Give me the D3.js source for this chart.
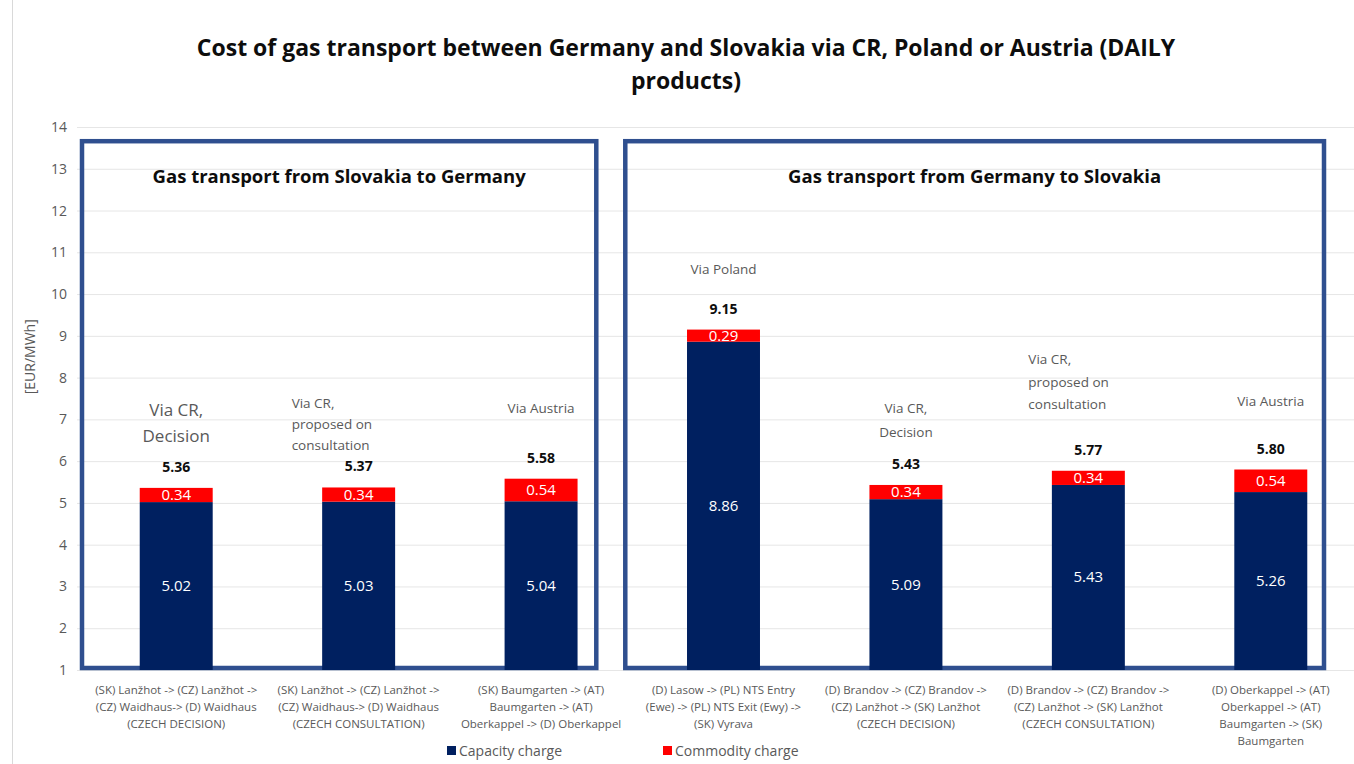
<!DOCTYPE html>
<html>
<head>
<meta charset="utf-8">
<script src="https://cdn.jsdelivr.net/npm/d3@7/dist/d3.min.js"></script>
<style>
  body { margin: 0; background: #fff; }
  text { font-family: "Open Sans", "Noto Sans", sans-serif; }
  .narrow { font-family: "Liberation Sans Narrow", "Open Sans", sans-serif; }
</style>
</head>
<body>
<svg id="chart" width="1354" height="764"></svg>
<script>
// data
var routes = [
  ["(SK) Lanžhot -> (CZ) Lanžhot ->", "(CZ) Waidhaus-> (D) Waidhaus", "(CZECH DECISION)"],
  ["(SK) Lanžhot -> (CZ) Lanžhot ->", "(CZ) Waidhaus-> (D) Waidhaus", "(CZECH CONSULTATION)"],
  ["(SK) Baumgarten -> (AT)", "Baumgarten -> (AT)", "Oberkappel -> (D) Oberkappel"],
  ["(D) Lasow -> (PL) NTS Entry", "(Ewe) -> (PL) NTS Exit (Ewy) ->", "(SK) Vyrava"],
  ["(D) Brandov -> (CZ) Brandov ->", "(CZ) Lanžhot -> (SK) Lanžhot", "(CZECH DECISION)"],
  ["(D) Brandov -> (CZ) Brandov ->", "(CZ) Lanžhot -> (SK) Lanžhot", "(CZECH CONSULTATION)"],
  ["(D) Oberkappel -> (AT)", "Oberkappel -> (AT)", "Baumgarten -> (SK)", "Baumgarten"]
];
var capacity  = [5.02, 5.03, 5.04, 8.86, 5.09, 5.43, 5.26];
var commodity = [0.34, 0.34, 0.54, 0.29, 0.34, 0.34, 0.54];
var totals    = [5.36, 5.37, 5.58, 9.15, 5.43, 5.77, 5.80];
var notes = [
  ["Via CR,", "Decision"],
  ["Via CR,", "proposed on", "consultation"],
  ["Via Austria"],
  ["Via Poland"],
  ["Via CR,", "Decision"],
  ["Via CR,", "proposed on", "consultation"],
  ["Via Austria"]
];
var groupTitles = ["Gas transport from Slovakia to Germany", "Gas transport from Germany to Slovakia"];
var groupRanges = [[0, 2], [3, 6]];
var yTicks = d3.range(1, 15);
var seriesNames = ["Capacity charge", "Commodity charge"];

// layout for the free-floating notes (offset from bar top, px)
var noteLayout = [
  {dy: -78, size: 17, lh: 26, anchor: "middle", dx: 0},
  {dy: -84, size: 13.5, lh: 21, anchor: "start", dx: -67},
  {dy: -70, size: 13.5, lh: 22, anchor: "middle", dx: 0},
  {dy: -60, size: 13.5, lh: 22, anchor: "middle", dx: 0},
  {dy: -77, size: 13.5, lh: 24, anchor: "middle", dx: 0},
  {dy: -111, size: 13.5, lh: 22.5, anchor: "start", dx: -60},
  {dy: -68, size: 13.5, lh: 22, anchor: "middle", dx: 0}
];

var colors = d3.scaleOrdinal().domain(seriesNames).range(["#002060", "#FF0000"]);

var svg = d3.select("#chart");
var width = 1354, height = 764;

var x = d3.scaleBand()
  .domain(d3.range(capacity.length))
  .range([85, 1362])
  .paddingInner(0.6)
  .paddingOuter(0.3);

var y = d3.scaleLinear().domain([1, 14]).range([670, 127]);

var grey = "#595959";

// outer chart border
svg.append("line").attr("x1", 12.5).attr("x2", 12.5).attr("y1", 0).attr("y2", height)
  .attr("stroke", "#d9d9d9");

// title
svg.append("text")
  .attr("x", 686).attr("y", 56)
  .attr("text-anchor", "middle")
  .attr("font-size", 23).attr("font-weight", "bold").attr("fill", "#0d0d0d")
  .selectAll("tspan")
  .data(["Cost of gas transport between Germany and Slovakia via CR, Poland or Austria (DAILY", "products)"])
  .enter().append("tspan")
  .attr("x", 686).attr("dy", function (d, i) { return i ? 33 : 0; })
  .text(function (d) { return d; });

// gridlines
svg.append("g").selectAll("line")
  .data(yTicks)
  .enter().append("line")
  .attr("x1", 77).attr("x2", width)
  .attr("y1", function (d) { return y(d) + 0.5; })
  .attr("y2", function (d) { return y(d) + 0.5; })
  .attr("stroke", "#e6e6e6");

// y axis
var yAxis = svg.append("g")
  .attr("transform", "translate(77,0)")
  .call(d3.axisLeft(y).tickValues(yTicks).tickSize(0).tickPadding(10));
yAxis.select(".domain").remove();
yAxis.selectAll("text").attr("font-size", 14).attr("fill", grey)
  .style("font-family", "'Open Sans', sans-serif");

svg.append("text")
  .attr("transform", "translate(35," + y(8.5) + ") rotate(-90)")
  .attr("text-anchor", "middle")
  .attr("font-size", 14).attr("fill", grey)
  .text("[EUR/MWh]");

// group boxes
groupRanges.forEach(function (r, i) {
  var x0 = x(r[0]) - x.step() * x.paddingOuter() + (i ? -7 : -3);
  var x1 = x(r[1]) + x.bandwidth() + x.step() * x.paddingOuter() - (i ? 38 : 36);
  var y0 = y(13.66), y1 = y(1) - 2;
  svg.append("rect")
    .attr("x", x0).attr("y", y0)
    .attr("width", x1 - x0).attr("height", y1 - y0)
    .attr("fill", "none")
    .attr("stroke", "#2F4F8F").attr("stroke-width", 4.5);
  svg.append("text")
    .attr("x", (x0 + x1) / 2).attr("y", y(12.8) + 6)
    .attr("text-anchor", "middle")
    .attr("font-size", 18.5).attr("font-weight", "bold").attr("fill", "#0d0d0d")
    .text(groupTitles[i]);
});

// stacked bars
var rows = capacity.map(function (c, i) {
  return {i: i, capacity: c, commodity: commodity[i]};
});
var stack = d3.stack().keys(["capacity", "commodity"]);
var layers = stack(rows);

var layer = svg.append("g").selectAll("g")
  .data(layers)
  .enter().append("g")
  .attr("fill", function (d, k) { return colors(seriesNames[k]); });

layer.selectAll("rect")
  .data(function (d) { return d; })
  .enter().append("rect")
  .attr("x", function (d) { return x(d.data.i); })
  .attr("width", x.bandwidth())
  .attr("y", function (d) { return y(Math.max(1, d[1])); })
  .attr("height", function (d) { return y(Math.max(1, d[0])) - y(Math.max(1, d[1])); });

// value labels inside segments
layer.selectAll("text")
  .data(function (d) { return d.map(function (p) { return {p: p, key: d.key}; }); })
  .enter().append("text")
  .attr("x", function (d) { return x(d.p.data.i) + x.bandwidth() / 2; })
  .attr("y", function (d) {
    var lo = Math.max(1, d.p[0]), hi = d.p[1];
    return (y(lo) + y(hi)) / 2 + 5;
  })
  .attr("text-anchor", "middle")
  .attr("font-size", 15)
  .attr("fill", "#fff")
  .text(function (d) { return d.p.data[d.key].toFixed(2); });

// totals
svg.append("g").selectAll("text")
  .data(totals)
  .enter().append("text")
  .attr("x", function (d, i) { return x(i) + x.bandwidth() / 2; })
  .attr("y", function (d) { return y(d) - 16; })
  .attr("text-anchor", "middle")
  .attr("font-size", 14).attr("font-weight", "bold").attr("fill", "#0d0d0d")
  .text(function (d) { return d.toFixed(2); });

// notes
notes.forEach(function (lines, i) {
  var L = noteLayout[i];
  var cx = x(i) + x.bandwidth() / 2 + L.dx;
  var t = svg.append("text")
    .attr("x", cx).attr("y", y(totals[i]) + L.dy + L.size * 0.35)
    .attr("text-anchor", L.anchor)
    .attr("font-size", L.size).attr("fill", grey);
  t.selectAll("tspan").data(lines).enter().append("tspan")
    .attr("x", cx).attr("dy", function (d, k) { return k ? L.lh : 0; })
    .text(function (d) { return d; });
});

// category labels
routes.forEach(function (lines, i) {
  var cx = x(i) + x.bandwidth() / 2;
  var t = svg.append("text")
    .attr("class", "narrow")
    .attr("x", cx).attr("y", 694)
    .attr("text-anchor", "middle")
    .attr("font-size", 11.5).attr("fill", grey);
  t.selectAll("tspan").data(lines).enter().append("tspan")
    .attr("x", cx).attr("dy", function (d, k) { return k ? 17 : 0; })
    .text(function (d) { return d; });
});

// legend
var legend = svg.append("g").selectAll("g")
  .data(seriesNames)
  .enter().append("g")
  .attr("transform", function (d, i) { return "translate(" + (447 + i * 216) + ",751)"; });
legend.append("rect")
  .attr("x", 0).attr("y", -5).attr("width", 9).attr("height", 9)
  .attr("fill", function (d) { return colors(d); });
legend.append("text")
  .attr("x", 12).attr("y", 5)
  .attr("font-size", 14).attr("fill", grey)
  .text(function (d) { return d; });
</script>
</body>
</html>
